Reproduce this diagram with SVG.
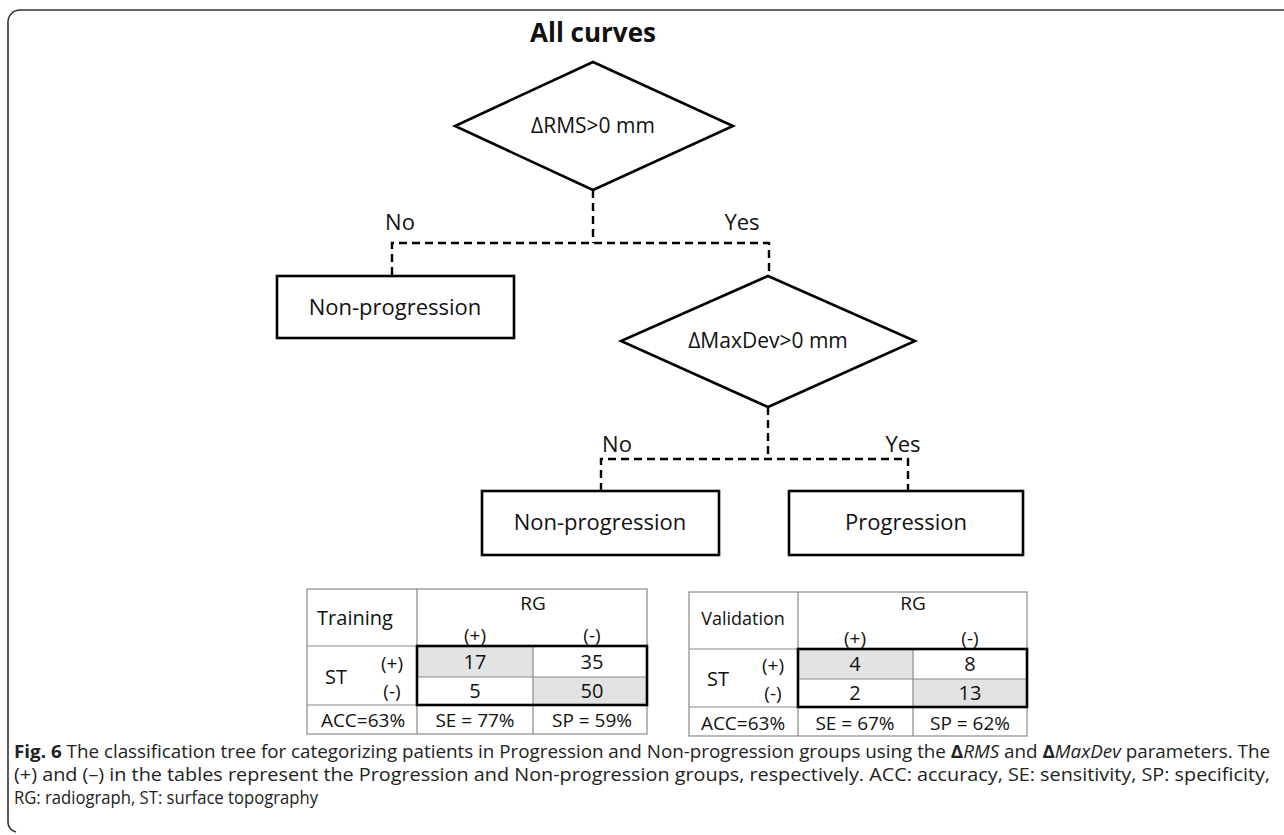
<svg xmlns="http://www.w3.org/2000/svg" width="1284" height="835" viewBox="0 0 1284 835">
<style>
.t{font-family:"Open Sans","Liberation Sans",sans-serif;fill:#111;text-anchor:middle}
.node{fill:#fff;stroke:#000;stroke-width:2.6}
.dash{fill:none;stroke:#000;stroke-width:2.4;stroke-dasharray:8 5}
.grid{fill:none;stroke:#8a8a8a;stroke-width:1.2}
.bold{fill:none;stroke:#000;stroke-width:2.6}
.gray{fill:#e3e3e3}
.cap{font-family:"Open Sans","Liberation Sans",sans-serif;fill:#222;font-size:18px}
</style>
<rect width="1284" height="835" fill="#fff"/>
<path d="M1284 10 H20 A12 12 0 0 0 8 22 V822 A10 10 0 0 0 16 832" fill="none" stroke="#333" stroke-width="1.6"/>

<text class="t" x="593" y="42" font-size="26" font-weight="bold">All curves</text>

<g id="connectors">
<path class="dash" d="M593 190 V243"/>
<path class="dash" d="M392 275 V243 H769 V276"/>
<path class="dash" d="M768 407 V459"/>
<path class="dash" d="M601 491 V459 H908 V491"/>
</g>

<g id="d1">
<polygon class="node" points="593,62 733,126 593,190 455,126"/>
<text class="t" x="593" y="133" font-size="21">ΔRMS&gt;0 mm</text>
</g>
<g id="lblNo1"><text class="t" x="400" y="230" font-size="22">No</text></g>
<g id="lblYes1"><text class="t" x="742" y="230" font-size="22">Yes</text></g>

<g id="n1">
<rect class="node" x="277" y="276" width="237" height="62"/>
<text class="t" x="395" y="315" font-size="22">Non-progression</text>
</g>

<g id="d2">
<polygon class="node" points="768,276 915,341 768,407 621,341"/>
<text class="t" x="768" y="348" font-size="21">ΔMaxDev&gt;0 mm</text>
</g>
<g id="lblNo2"><text class="t" x="617" y="452" font-size="22">No</text></g>
<g id="lblYes2"><text class="t" x="903" y="452" font-size="22">Yes</text></g>

<g id="n2">
<rect class="node" x="482" y="491" width="237" height="64"/>
<text class="t" x="600" y="530" font-size="22">Non-progression</text>
</g>
<g id="n3">
<rect class="node" x="789" y="491" width="234" height="64"/>
<text class="t" x="906" y="530" font-size="22">Progression</text>
</g>

<g id="tableTraining">
<rect class="gray" x="417" y="646" width="116" height="31"/>
<rect class="gray" x="533" y="677" width="114" height="28"/>
<rect class="grid" x="307" y="589" width="340" height="145"/>
<path class="grid" d="M417 589 V734 M533 677 V734 M307 646 H417 M307 705 H647 M417 677 H647 M533 646 V677"/>
<rect class="bold" x="417" y="646" width="230" height="59"/>
<text class="t" x="355" y="625" font-size="20">Training</text>
<text class="t" x="533" y="610" font-size="19">RG</text>
<text class="t" x="475" y="642" font-size="19">(+)</text>
<text class="t" x="592" y="642" font-size="19">(-)</text>
<text class="t" x="336" y="684" font-size="20">ST</text>
<text class="t" x="392" y="670" font-size="19">(+)</text>
<text class="t" x="392" y="698" font-size="19">(-)</text>
<text class="t" x="475" y="669" font-size="20">17</text>
<text class="t" x="592" y="669" font-size="20">35</text>
<text class="t" x="475" y="698" font-size="20">5</text>
<text class="t" x="592" y="698" font-size="20">50</text>
<text class="t" x="363" y="727" font-size="19">ACC=63%</text>
<text class="t" x="475" y="727" font-size="19">SE = 77%</text>
<text class="t" x="592" y="727" font-size="19">SP = 59%</text>
</g>

<g id="tableValidation">
<rect class="gray" x="798" y="649" width="115" height="30"/>
<rect class="gray" x="913" y="679" width="114" height="28"/>
<rect class="grid" x="689" y="592" width="338" height="144"/>
<path class="grid" d="M798 592 V736 M913 679 V736 M689 649 H798 M689 707 H1027 M798 679 H1027 M913 649 V679"/>
<rect class="bold" x="798" y="649" width="229" height="58"/>
<text class="t" x="743" y="625" font-size="18">Validation</text>
<text class="t" x="913" y="610" font-size="19">RG</text>
<text class="t" x="855" y="645" font-size="19">(+)</text>
<text class="t" x="970" y="645" font-size="19">(-)</text>
<text class="t" x="718" y="686" font-size="20">ST</text>
<text class="t" x="773" y="672" font-size="19">(+)</text>
<text class="t" x="773" y="700" font-size="19">(-)</text>
<text class="t" x="855" y="671" font-size="20">4</text>
<text class="t" x="970" y="671" font-size="20">8</text>
<text class="t" x="855" y="700" font-size="20">2</text>
<text class="t" x="970" y="700" font-size="20">13</text>
<text class="t" x="743" y="730" font-size="19">ACC=63%</text>
<text class="t" x="855" y="730" font-size="19">SE = 67%</text>
<text class="t" x="970" y="730" font-size="19">SP = 62%</text>
</g>

<g id="caption">
<text class="cap" x="14" y="758" textLength="1256" lengthAdjust="spacingAndGlyphs"><tspan font-weight="bold">Fig. 6</tspan> The classification tree for categorizing patients in Progression and Non-progression groups using the <tspan font-weight="bold">Δ</tspan><tspan font-style="italic">RMS</tspan> and <tspan font-weight="bold">Δ</tspan><tspan font-style="italic">MaxDev</tspan> parameters. The</text>
<text class="cap" x="14" y="781" textLength="1256" lengthAdjust="spacingAndGlyphs">(+) and (–) in the tables represent the Progression and Non-progression groups, respectively. ACC: accuracy, SE: sensitivity, SP: specificity,</text>
<text class="cap" x="14" y="804" textLength="304" lengthAdjust="spacingAndGlyphs">RG: radiograph, ST: surface topography</text>
</g>
</svg>
